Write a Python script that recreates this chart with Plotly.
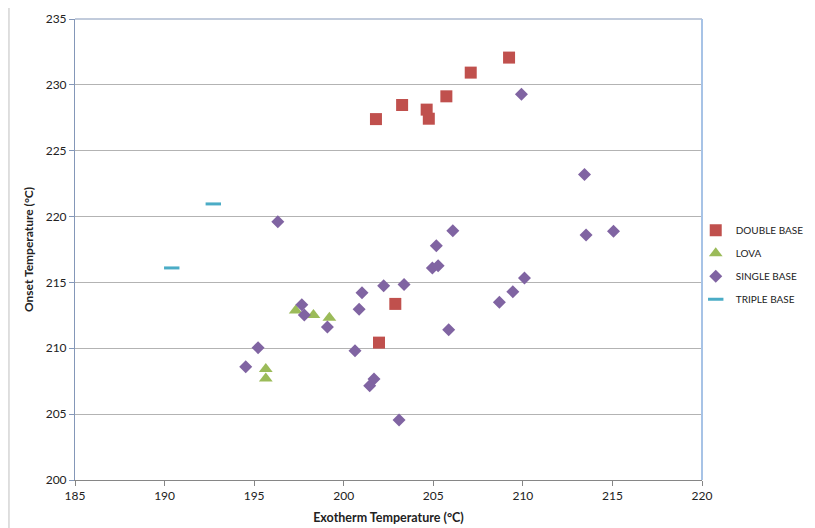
import plotly.graph_objects as go

# ---- data ----
double_base_x = [201.8, 203.26, 204.63, 204.75, 205.73, 207.09, 209.23, 202.88, 201.97]
double_base_y = [227.4, 228.47, 228.12, 227.43, 229.13, 230.93, 232.07, 213.37, 210.43]

lova_x = [197.32, 195.65, 195.65, 198.31, 199.2]
lova_y = [212.86, 208.43, 207.71, 212.53, 212.32]

single_base_x = [196.32, 209.92, 213.44, 206.09, 205.17, 213.53, 215.06, 210.09, 209.44,
                 204.95, 205.27, 203.37, 202.23, 201.02, 200.86, 197.66, 197.8, 199.09,
                 200.63, 201.69, 201.45, 203.09, 205.86, 208.69, 194.53, 195.22]
single_base_y = [219.61, 229.28, 223.2, 218.93, 217.79, 218.6, 218.88, 215.34, 214.3,
                 216.1, 216.27, 214.85, 214.75, 214.22, 212.96, 213.31, 212.53, 211.62,
                 209.82, 207.67, 207.16, 204.56, 211.41, 213.49, 208.6, 210.05]

triple_base_x = [192.72, 190.4]
triple_base_y = [220.96, 216.1]

x_ticks = [185, 190, 195, 200, 205, 210, 215, 220]
y_ticks = [200, 205, 210, 215, 220, 225, 230, 235]

FONT = "Lato"

fig = go.Figure()
fig.add_trace(go.Scatter(x=double_base_x, y=double_base_y, mode="markers", name="DOUBLE BASE",
                         legendgroup="a",
                         marker=dict(symbol="square", size=12, color="#C0504D")))
fig.add_trace(go.Scatter(x=lova_x, y=lova_y, mode="markers", name="LOVA", legendgroup="b",
                         marker=dict(symbol="triangle-up", size=12, color="#9BBB59")))
fig.add_trace(go.Scatter(x=single_base_x, y=single_base_y, mode="markers", name="SINGLE BASE",
                         legendgroup="c",
                         marker=dict(symbol="diamond", size=10, color="#8064A2")))
fig.add_trace(go.Scatter(x=triple_base_x, y=triple_base_y, mode="markers", name="TRIPLE BASE",
                         legendgroup="d",
                         marker=dict(symbol="line-ew", size=11, color="#4BACC6",
                                     line=dict(width=3, color="#4BACC6"))))

fig.update_layout(
    width=815, height=528,
    margin=dict(l=67, r=121, t=11, b=56, autoexpand=False),
    paper_bgcolor="white", plot_bgcolor="white",
    font=dict(family=FONT, size=12, color="#222222"),
    showlegend=True,
    legend=dict(x=0.99, y=0.573, xanchor="left", yanchor="top",
                font=dict(family=FONT, size=10, color="#222222"),
                tracegroupgap=4, bgcolor="rgba(0,0,0,0)"),
    xaxis=dict(range=[185, 220], tickvals=x_ticks, showgrid=False, zeroline=False,
               automargin=False,
               showline=True, linecolor="#868686", linewidth=1,
               ticks="outside", ticklen=5, tickcolor="#868686",
               tickfont=dict(size=12),
               title=dict(text="<b>Exotherm Temperature (°C)</b>", standoff=10,
                          font=dict(family=FONT, size=12.5, color="#222222"))),
    yaxis=dict(range=[200, 235], tickvals=y_ticks, showgrid=True, gridcolor="#B3B3B3",
               gridwidth=1, zeroline=False, automargin=False,
               showline=True, linecolor="#8497B8", linewidth=1,
               ticks="outside", ticklen=5, tickcolor="#8497B8",
               tickfont=dict(size=12),
               title=dict(text="<b>Onset Temperature (°C)</b>", standoff=9,
                          font=dict(family=FONT, size=12, color="#222222"))),
    shapes=[
        # outer chart border
        dict(type="rect", xref="paper", yref="paper", x0=-0.1053, x1=1.25, y0=-0.2, y1=1.0325,
             line=dict(color="#BFBFBF", width=1), fillcolor="rgba(0,0,0,0)", layer="below"),
        # plot area top and right edges
        dict(type="line", xref="paper", yref="paper", x0=0, x1=1, y0=1, y1=1,
             line=dict(color="#8497B8", width=1)),
        dict(type="line", xref="paper", yref="paper", x0=1, x1=1, y0=0, y1=1,
             line=dict(color="#A7C3E6", width=2)),
    ],
)

fig.write_html("out.html")
